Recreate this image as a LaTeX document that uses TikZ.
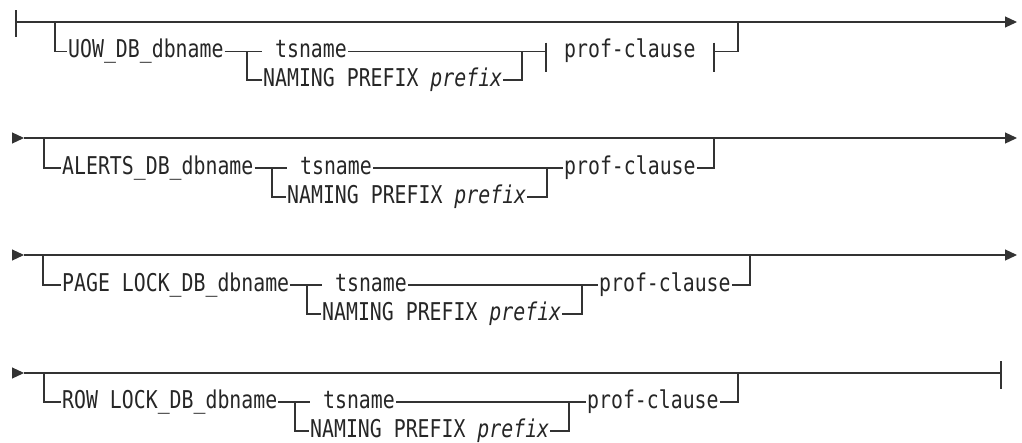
\documentclass[tikz,border=0pt]{standalone}
\usepackage{fontspec}
\newfontfamily\synfont[FakeStretch=0.81,ItalicFont={DejaVu Sans Mono Oblique}]{DejaVu Sans Mono}
\usetikzlibrary{arrows.meta}
\begin{document}
\begin{tikzpicture}[x=1pt,y=-1pt,
  rail/.style={line width=1.2pt, draw=black!80},
  endtip/.style={-{Triangle[length=12pt,width=11pt]}},
  lbl/.style={anchor=west, inner xsep=1pt, inner ysep=0pt,
    text height=12pt, text depth=0pt, text=black!85,
    font=\synfont\fontsize{24.5}{29}\selectfont}]
\useasboundingbox (0,0) rectangle (1022,442);

% ---------- UOW_DB ----------
\coordinate (r1s) at (16,22);
\coordinate (r1e) at (1017,22);
\coordinate (r1d) at (55,22);
\coordinate (r1u) at (738,22);
\coordinate (r1j) at (247,51.7);
\coordinate (r1m) at (522,51.7);
\coordinate (r1p) at (546,51.7);
\coordinate (r1q) at (714,51.7);
\node[lbl] (r1k) at (67,51.7) {UOW\_DB\_dbname};
\node[lbl] (r1t) at (262,51.7) {\ tsname};
\node[lbl] (r1n) at (262,80) {NAMING PREFIX \textit{prefix}};
\node[lbl] (r1c) at (563,51.7) {prof-clause};
\draw[rail,endtip] (r1s) -- (r1e);
\draw[rail] (r1s) ++(0,-12) -- ++(0,27);
\draw[rail] (r1d) |- (r1k.west);
\draw[rail] (r1k.east) -- (r1j) -- (r1t.west);
\draw[rail] (r1t.east) -- (r1p);
\draw[rail] (r1j) |- (r1n.west);
\draw[rail] (r1n.east) -| (r1m);
\draw[rail] (r1p) ++(0,-9) -- ++(0,29);
\draw[rail] (r1q) ++(0,-9) -- ++(0,29);
\draw[rail] (r1q) -| (r1u);

% ---------- ALERTS_DB ----------
\coordinate (r2a) at (12,138);
\coordinate (r2s) at (24,138);
\coordinate (r2e) at (1017,138);
\coordinate (r2d) at (44,138);
\coordinate (r2u) at (714,138);
\coordinate (r2j) at (272,168);
\coordinate (r2m) at (547,168);
\node[lbl] (r2k) at (61,168) {ALERTS\_DB\_dbname};
\node[lbl] (r2t) at (287,168) {\ tsname};
\node[lbl] (r2n) at (286,197) {NAMING PREFIX \textit{prefix}};
\node[lbl] (r2c) at (563,168) {prof-clause};
\draw[rail,endtip] (r2a) -- (r2s);
\draw[rail,endtip] (r2s) -- (r2e);
\draw[rail] (r2d) |- (r2k.west);
\draw[rail] (r2k.east) -- (r2j) -- (r2t.west);
\draw[rail] (r2t.east) -- (r2m) -- (r2c.west);
\draw[rail] (r2j) |- (r2n.west);
\draw[rail] (r2n.east) -| (r2m);
\draw[rail] (r2c.east) -| (r2u);

% ---------- PAGE LOCK_DB ----------
\coordinate (r3a) at (12,255);
\coordinate (r3s) at (24,255);
\coordinate (r3e) at (1017,255);
\coordinate (r3d) at (43,255);
\coordinate (r3u) at (750,255);
\coordinate (r3j) at (307,285);
\coordinate (r3m) at (582,285);
\node[lbl] (r3k) at (61,285) {PAGE LOCK\_DB\_dbname};
\node[lbl] (r3t) at (322,285) {\ tsname};
\node[lbl] (r3n) at (321,314) {NAMING PREFIX \textit{prefix}};
\node[lbl] (r3c) at (598,285) {prof-clause};
\draw[rail,endtip] (r3a) -- (r3s);
\draw[rail,endtip] (r3s) -- (r3e);
\draw[rail] (r3d) |- (r3k.west);
\draw[rail] (r3k.east) -- (r3j) -- (r3t.west);
\draw[rail] (r3t.east) -- (r3m) -- (r3c.west);
\draw[rail] (r3j) |- (r3n.west);
\draw[rail] (r3n.east) -| (r3m);
\draw[rail] (r3c.east) -| (r3u);

% ---------- ROW LOCK_DB ----------
\coordinate (r4a) at (12,373);
\coordinate (r4s) at (24,373);
\coordinate (r4e) at (1001,373);
\coordinate (r4d) at (44,373);
\coordinate (r4u) at (738,373);
\coordinate (r4j) at (295,402);
\coordinate (r4m) at (569,402);
\node[lbl] (r4k) at (61,402) {ROW LOCK\_DB\_dbname};
\node[lbl] (r4t) at (310,402) {\ tsname};
\node[lbl] (r4n) at (309,431) {NAMING PREFIX \textit{prefix}};
\node[lbl] (r4c) at (586,402) {prof-clause};
\draw[rail,endtip] (r4a) -- (r4s);
\draw[rail] (r4s) -- (r4e);
\draw[rail] (r4e) ++(0,-12) -- ++(0,28);
\draw[rail] (r4d) |- (r4k.west);
\draw[rail] (r4k.east) -- (r4j) -- (r4t.west);
\draw[rail] (r4t.east) -- (r4m) -- (r4c.west);
\draw[rail] (r4j) |- (r4n.west);
\draw[rail] (r4n.east) -| (r4m);
\draw[rail] (r4c.east) -| (r4u);
\end{tikzpicture}
\end{document}
